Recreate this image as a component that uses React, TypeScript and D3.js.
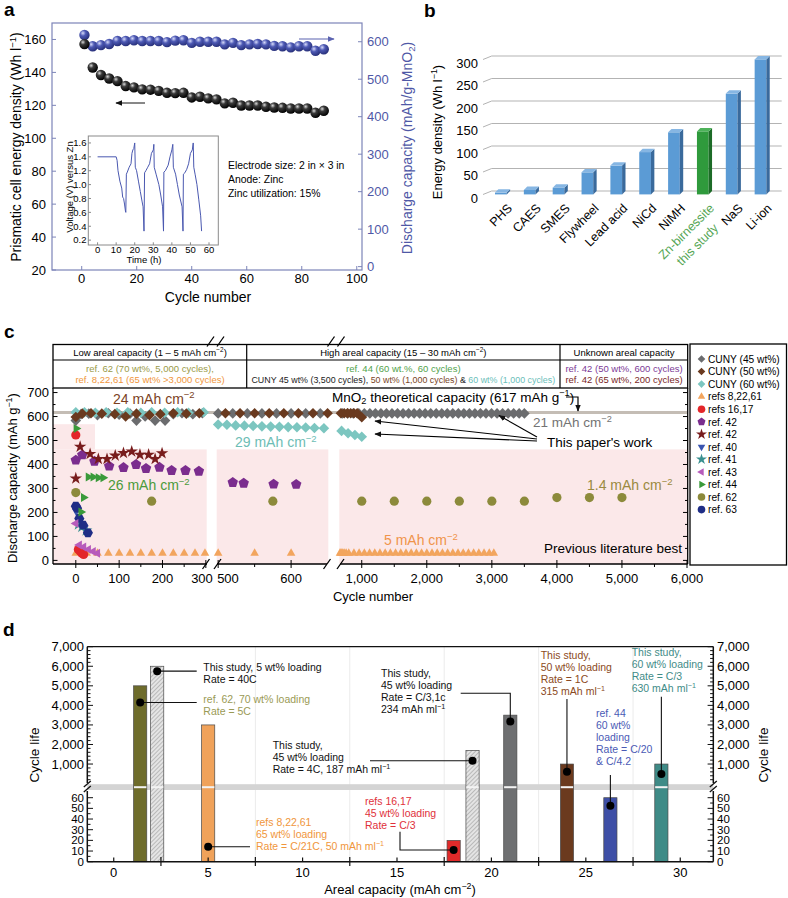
import React from "react";
import * as d3 from "d3";

const FONT = "'Liberation Sans', Arial, Helvetica, sans-serif";

/* ================= Panel a data ================= */
const aCycles = [1, 4, 7, 10, 13, 16, 19, 22, 25, 28, 31, 34, 37, 40, 43, 46, 49, 52, 55, 58, 61, 64, 67, 70, 73, 76, 79, 82, 85, 88];
const aEnergy = [157.2, 143, 138.4, 136.3, 134.7, 131.7, 130.9, 129.7, 129.5, 128.8, 127.6, 127.4, 127.6, 124.8, 125.2, 124.2, 123.6, 121.2, 121.6, 119.9, 119.9, 119.9, 119.1, 118.7, 118.5, 118.1, 118.1, 118.1, 115.5, 116.7];
const aCapacity = [618, 588, 591, 594, 602, 602, 604, 602, 602, 602, 599, 603, 604, 597, 600, 600, 600, 593, 597, 591, 593, 594, 593, 589, 588, 585, 588, 588, 576, 580];
const aLeftTicks = [20, 40, 60, 80, 100, 120, 140, 160];
const aRightTicks = [0, 100, 200, 300, 400, 500, 600];
const aXTicks = [0, 20, 40, 60, 80, 100];
const insetTime = [0, 10, 10.5, 11, 12, 13, 13.5, 14, 14.5, 15, 15.2, 15.5, 16, 17, 18, 18.5, 19, 19.5, 20, 20.3, 21, 22, 23, 24, 24.5, 25, 25.3, 26, 27, 28, 29, 30, 30.3, 30.5, 31.5, 33, 34, 35, 35.5, 35.7, 36.5, 38, 39, 40, 40.5, 40.8, 42, 43, 44, 45.5, 46, 46.2, 47, 48, 49, 50, 51, 51.5, 51.8, 52.5, 53.5, 54.5, 55.5, 56];
const insetVoltage = [1.4, 1.4, 1.35, 1.2, 1.05, 0.95, 0.82, 0.8, 0.72, 0.62, 0.6, 1.15, 1.18, 1.25, 1.3, 1.45, 1.5, 1.52, 1.6, 1.25, 1.2, 1.05, 0.9, 0.75, 0.68, 0.33, 1.17, 1.2, 1.25, 1.3, 1.45, 1.5, 1.58, 1.25, 1.15, 1.0, 0.85, 0.68, 0.33, 1.18, 1.2, 1.28, 1.4, 1.5, 1.58, 1.25, 1.15, 1.0, 0.85, 0.68, 0.33, 1.15, 1.17, 1.22, 1.3, 1.45, 1.5, 1.6, 1.25, 1.15, 1.0, 0.78, 0.55, 0.33];
const insetYTicks = [0.2, 0.4, 0.6, 0.8, 1.0, 1.2, 1.4, 1.6];
const insetXTicks = [0, 10, 20, 30, 40, 50, 60];
const aNotes = ["Electrode size: 2 in × 3 in", "Anode: Zinc", "Zinc utilization: 15%"];

/* ================= Panel b data ================= */
const bCategories = ["PHS", "CAES", "SMES", "Flywheel", "Lead acid", "NiCd", "NiMH", "Zn-birnessite", "NaS", "Li-ion"];
const bValues = [4, 10, 15, 49, 64, 94, 138, 140, 224, 300];
const bTicks = [0, 50, 100, 150, 200, 250, 300];

/* ================= Panel c data ================= */
const cYTicks = [0, 100, 200, 300, 400, 500, 600, 700];
const cXTicks1 = [0, 100, 200, 300];
const cXTicks2 = [500, 600];
const cXTicks3 = [1000, 2000, 3000, 4000, 5000, 6000];
const cXMinor = [50, 150, 250, 550, 1500, 2500, 3500, 4500, 5500];
const cGray45 = [[0, 583], [12, 610], [30, 612], [50, 606], [75, 614], [100, 608], [125, 612], [140, 583], [160, 600], [183, 583], [206, 583], [225, 610], [245, 614], [270, 610], [292, 614],
  [500, 613], [520, 613], [540, 613], [560, 613], [580, 613], [600, 613], [620, 613], [640, 613],
  [700, 613], [785, 613], [870, 613], [955, 613], [1040, 613], [1125, 613], [1210, 613], [1295, 613], [1380, 613], [1465, 613], [1550, 613], [1635, 613], [1720, 613], [1805, 613], [1890, 613], [1975, 613], [2060, 613], [2145, 613], [2230, 613], [2315, 613], [2400, 613], [2485, 613], [2570, 613], [2655, 613], [2740, 613], [2825, 613], [2910, 613], [2995, 613], [3080, 613], [3165, 613], [3250, 613], [3335, 613], [3420, 613], [3500, 613]];
const cBrown50 = [[0, 598], [15, 612], [35, 614], [60, 612], [90, 610], [115, 600], [140, 612], [170, 606], [195, 610], [225, 614], [255, 612], [285, 614],
  [510, 614], [530, 614], [550, 614], [570, 614], [590, 614], [610, 614], [630, 614], [650, 614],
  [680, 614], [730, 614], [780, 614], [830, 614], [880, 614], [930, 614], [1000, 597]];
const cTeal60 = [[0, 618], [20, 618], [45, 616], [70, 618], [95, 616], [120, 618], [150, 616], [175, 618], [205, 616], [235, 618], [260, 616], [295, 618],
  [500, 567], [512, 566], [524, 563], [536, 562], [548, 561], [560, 559], [572, 558], [584, 557], [596, 556], [608, 555], [620, 554], [632, 552], [645, 551],
  [690, 540], [790, 530], [895, 523], [1000, 516]];
const cRefs82261 = [[0, 30], [25, 30], [50, 30], [75, 30], [100, 30], [125, 30], [150, 30], [175, 30], [200, 30], [225, 30], [250, 30], [275, 30], [298, 30],
  [500, 30], [550, 30], [600, 30],
  [665, 30], [680, 30], [695, 30], [710, 30], [730, 30], [760, 30], [800, 30], [880, 30], [960, 30], [1040, 30], [1120, 30], [1200, 30], [1280, 30], [1360, 30], [1440, 30], [1520, 30], [1600, 30], [1680, 30], [1760, 30], [1840, 30], [1920, 30], [2000, 30], [2080, 30], [2160, 30], [2240, 30], [2320, 30], [2400, 30], [2480, 30], [2560, 30], [2640, 30], [2720, 30], [2800, 30], [2880, 30], [2960, 30], [3030, 30]];
const cRefs1617 = [[0, 523], [6, 45], [10, 38], [14, 30], [18, 25]];
const cRef42a = [[0, 418], [15, 440], [43, 413], [77, 393], [110, 387], [139, 400], [162, 383], [193, 388], [221, 375], [253, 375], [284, 372], [520, 325], [535, 322], [576, 318], [607, 317]];
const cRef42b = [[0, 342], [10, 474], [33, 444], [52, 423], [72, 423], [91, 437], [110, 448], [129, 454], [148, 441], [168, 441], [183, 423], [199, 447]];
const cRef40 = [[1, 205], [10, 165], [20, 135]];
const cRef41 = [[6, 150], [14, 140], [24, 125]];
const cRef43 = [[0, 154], [8, 64], [18, 56], [29, 46], [40, 37], [50, 30]];
const cRef44 = [[0, 595], [1, 550], [12, 202], [18, 262], [29, 348], [40, 348], [52, 345], [63, 345]];
const cRef62 = [[0, 283], [175, 247], [575, 247], [1000, 247], [1500, 247], [2000, 247], [2500, 247], [3000, 247], [3500, 247], [4000, 262], [4500, 262], [5000, 262]];
const cRef63 = [[0, 226], [3, 218], [8, 175], [17, 147], [28, 115]];
const cLegendNames = ["CUNY (45 wt%)", "CUNY (50 wt%)", "CUNY (60 wt%)", "refs 8,22,61", "refs 16,17", "ref. 42", "ref. 42", "ref. 40", "ref. 41", "ref. 43", "ref. 44", "ref. 62", "ref. 63"];

/* ================= Panel d data ================= */
const dAreal = [1.4, 2.3, 5.0, 18.0, 19.0, 21.0, 24.0, 26.3, 29.0];
const dCycleLife = [5000, 6000, 3000, 20, 1700, 3500, 1000, 60, 1000];
const dDotValue = [4150, 5750, 14, 11, 1170, 3170, 610, 52.5, 491];
const dUpperTicks = [1000, 2000, 3000, 4000, 5000, 6000, 7000];
const dLowerTicks = [0, 10, 20, 30, 40, 50, 60];
const dXTicks = [0, 5, 10, 15, 20, 25, 30];
const dHalfTicks = [2.5, 7.5, 12.5, 17.5, 22.5, 27.5];
const dNotes = [
  ["ref. 62, 70 wt% loading", "Rate = 5C"],
  ["This study, 5 wt% loading", "Rate = 40C"],
  ["refs 8,22,61", "65 wt% loading", "Rate = C/21C, 50 mAh ml^{−1}"],
  ["refs 16,17", "45 wt% loading", "Rate = C/3"],
  ["This study,", "45 wt% loading", "Rate = 4C, 187 mAh ml^{−1}"],
  ["This study,", "45 wt% loading", "Rate = C/3,1c", "234 mAh ml^{−1}"],
  ["This study,", "50 wt% loading", "Rate = 1C", "315 mAh ml^{−1}"],
  ["ref. 44", "60 wt%", "loading", "Rate = C/20", "& C/4.2"],
  ["This study,", "60 wt% loading", "Rate = C/3", "630 mAh ml^{−1}"],
];

/* ================= helpers ================= */
function rich(s: string, fs: number) {
  const parts = s.split(/(\^\{[^}]*\}|_\{[^}]*\})/).filter((p) => p !== "");
  let cur = 0;
  return parts.map((p, i) => {
    let target = 0;
    let txt = p;
    let size = fs;
    if (p.startsWith("^{")) { target = -0.38 * fs; txt = p.slice(2, -1); size = fs * 0.68; }
    else if (p.startsWith("_{")) { target = 0.22 * fs; txt = p.slice(2, -1); size = fs * 0.68; }
    const dy = target - cur;
    cur = target;
    return <tspan key={i} dy={dy} fontSize={size}>{txt}</tspan>;
  });
}

function regPoly(n: number, r: number, rot: number) {
  const pts: string[] = [];
  for (let i = 0; i < n; i++) {
    const a = rot + (i * 2 * Math.PI) / n;
    pts.push(`${(r * Math.cos(a)).toFixed(2)},${(r * Math.sin(a)).toFixed(2)}`);
  }
  return "M" + pts.join("L") + "Z";
}

function markerPath(shape: string, s: number) {
  switch (shape) {
    case "diamond": return `M0,${-s}L${s},0L0,${s}L${-s},0Z`;
    case "circle": return d3.symbol(d3.symbolCircle, Math.PI * s * s)() as string;
    case "triUp": return regPoly(3, s * 1.15, -Math.PI / 2);
    case "triDown": return regPoly(3, s * 1.15, Math.PI / 2);
    case "triLeft": return regPoly(3, s * 1.15, Math.PI);
    case "triRight": return regPoly(3, s * 1.15, 0);
    case "pentagon": return regPoly(5, s * 1.1, -Math.PI / 2);
    case "hexagon": return regPoly(6, s * 1.05, 0);
    case "star": return d3.symbol(d3.symbolStar, s * s * 2.6)() as string;
    default: return "";
  }
}

/* ================= Panel a ================= */
function PanelA() {
  const x = d3.scaleLinear([-10.8, 101.9], [52, 362]);
  const yL = d3.scaleLinear([20, 170], [270, 23]);
  const yR = d3.scaleLinear([-9, 650], [270, 23]);
  const xi = d3.scaleLinear([-5, 65], [88.3, 218.3]);
  const yi = d3.scaleLinear([0.13, 1.7], [245, 136]);
  const frame = "#7c84b8";
  const blue = "#4f58a6";
  const line = d3.line<number>().x((_, i) => xi(insetTime[i])).y((d) => yi(d));
  return (
    <g>
      <text x={4} y={16} fontSize={19} fontWeight="bold">a</text>
      {aLeftTicks.map((v) => (
        <g key={"l" + v}>
          <line x1={52} x2={56} y1={yL(v)} y2={yL(v)} stroke={frame} />
          <text x={46} y={yL(v) + 4.5} textAnchor="end" fontSize={13}>{v}</text>
        </g>
      ))}
      {aRightTicks.map((v) => (
        <g key={"r" + v}>
          <line x1={358} x2={362} y1={yR(v)} y2={yR(v)} stroke={frame} />
          <text x={367} y={yR(v) + 4.5} fontSize={13} fill={blue}>{v}</text>
        </g>
      ))}
      {aXTicks.map((v) => (
        <g key={"x" + v}>
          <line x1={x(v)} x2={x(v)} y1={270} y2={266} stroke={frame} />
          <text x={x(v)} y={283} textAnchor="middle" fontSize={13}>{v}</text>
        </g>
      ))}
      <rect x={52} y={23} width={310} height={247} fill="none" stroke={frame} strokeWidth={1.2} />
      <text transform="translate(21,147) rotate(-90)" textAnchor="middle" fontSize={14}>{rich("Prismatic cell energy density (Wh l^{−1})", 14)}</text>
      <text transform="translate(412,148) rotate(-90)" textAnchor="middle" fontSize={14} fill={blue}>{rich("Discharge capacity (mAh/g-MnO_{2})", 14)}</text>
      <text x={208} y={302} textAnchor="middle" fontSize={14}>Cycle number</text>

      {/* inset */}
      <rect x={88.3} y={136} width={130} height={109} fill="#fff" stroke="#8a8a8a" />
      {insetYTicks.map((v) => (
        <g key={"iy" + v}>
          <line x1={88.3} x2={91} y1={yi(v)} y2={yi(v)} stroke="#8a8a8a" />
          <text x={86.5} y={yi(v) + 3.3} textAnchor="end" fontSize={9.5}>{v.toFixed(1)}</text>
        </g>
      ))}
      {insetXTicks.map((v) => (
        <g key={"ix" + v}>
          <line x1={xi(v)} x2={xi(v)} y1={245} y2={242.3} stroke="#8a8a8a" />
          <text x={xi(v)} y={253} textAnchor="middle" fontSize={9.5}>{v}</text>
        </g>
      ))}
      <path d={line(insetVoltage) as string} fill="none" stroke="#4a58b0" strokeWidth={1} />
      <text transform="translate(73,187) rotate(-90)" textAnchor="middle" fontSize={9.5}>Voltage (V)  versus Zn</text>
      <text x={144} y={263} textAnchor="middle" fontSize={9.5}>Time (h)</text>

      {aNotes.map((t, i) => (
        <text key={t} x={228} y={169 + i * 14} fontSize={10.4}>{t}</text>
      ))}

      {/* data */}
      {aCycles.map((c, i) => (
        <circle key={"b" + c} cx={x(c)} cy={yR(aCapacity[i])} r={5.2} fill="url(#sphBlue)" />
      ))}
      {aCycles.map((c, i) => (
        <circle key={"k" + c} cx={x(c)} cy={yL(aEnergy[i])} r={5.2} fill="url(#sphBlack)" />
      ))}
      <line x1={145} y1={103} x2={116} y2={103} stroke="#111" strokeWidth={1} markerEnd="url(#ahBlack)" />
      <line x1={299} y1={39} x2={334} y2={39} stroke="#5b63b0" strokeWidth={1.2} markerEnd="url(#ahBlue)" />
    </g>
  );
}

/* ================= Panel b ================= */
function PanelB() {
  const y = d3.scaleLinear([0, 300], [191, 56]);
  const xc = d3.scalePoint(bCategories, [500.85, 760.5]);
  const bw = 11.7;
  const dp = 3.4;
  const front0 = 194.4;
  return (
    <g>
      <text x={424} y={17} fontSize={19} fontWeight="bold">b</text>
      {bTicks.map((v) => (
        <g key={v}>
          <polyline points={`483,${y(v) + 3.5} 491.7,${y(v)} 781.7,${y(v)}`} fill="none" stroke="#b3b3b3" strokeWidth={1} />
          <text x={478} y={y(v) + 11.5} textAnchor="end" fontSize={13}>{v}</text>
        </g>
      ))}
      <text transform="translate(442,132) rotate(-90)" textAnchor="middle" fontSize={13}>{rich("Energy density (Wh l^{−1})", 13)}</text>
      {bCategories.map((c, i) => {
        const cx = xc(c) as number;
        const left = cx - bw / 2;
        const h = y(0) - y(bValues[i]);
        const top = front0 - h;
        const green = c === "Zn-birnessite";
        const fFront = green ? "#2f9a3c" : "#5b9bd5";
        const fSide = green ? "#1c6b27" : "#3a6a9c";
        const fTop = green ? "#4db25a" : "#86b6e3";
        return (
          <g key={c}>
            <rect x={left} y={top} width={bw} height={h} fill={fFront} />
            <polygon points={`${left + bw},${front0} ${left + bw + dp},${front0 - dp} ${left + bw + dp},${top - dp} ${left + bw},${top}`} fill={fSide} />
            <polygon points={`${left},${top} ${left + dp},${top - dp} ${left + bw + dp},${top - dp} ${left + bw},${top}`} fill={fTop} />
          </g>
        );
      })}
      {bCategories.map((c) => {
        const cx = xc(c) as number;
        if (c === "Zn-birnessite") {
          return (
            <g key={"lab" + c} transform={`translate(${cx + 12},209) rotate(-45)`}>
              <text textAnchor="end" fontSize={12.5} fill="#55a655">Zn-birnessite</text>
              <text x={-11} y={17} textAnchor="end" fontSize={12.5} fill="#55a655">this study</text>
            </g>
          );
        }
        return (
          <text key={"lab" + c} transform={`translate(${cx + 12},209) rotate(-45)`} textAnchor="end" fontSize={12.5}>{c}</text>
        );
      })}
    </g>
  );
}

/* ================= Panel c ================= */
const cSegDomains = [[-52.6, 302], [498, 651], [655, 6000]];
const cSegRanges = [[53, 206.7], [216.7, 328.3], [339.3, 687]];

function PanelC() {
  const y = d3.scaleLinear([-15, 719], [564, 388]);
  const sc = cSegDomains.map((d, i) => d3.scaleLinear(d, cSegRanges[i]));
  const xC = (c: number) => (c <= 302 ? sc[0](c) : c <= 651 ? sc[1](c) : sc[2](c));
  const pink = "#fbe8e9";
  const series = [
    { data: cRefs82261, shape: "triUp", color: "#f2a55e", s: 4.3 },
    { data: cRef62, shape: "circle", color: "#8c8a3b", s: 4.6 },
    { data: cRef42a, shape: "pentagon", color: "#7b2d8e", s: 5 },
    { data: cRef42b, shape: "star", color: "#781c1c", s: 4.3 },
    { data: cRefs1617, shape: "circle", color: "#e3262a", s: 4.6 },
    { data: cRef40, shape: "triDown", color: "#3a55b0", s: 4.3 },
    { data: cRef41, shape: "star", color: "#3a9090", s: 4.3 },
    { data: cRef63, shape: "hexagon", color: "#1f2d86", s: 4.8 },
    { data: cRef43, shape: "triLeft", color: "#b75bbb", s: 4.5 },
    { data: cRef44, shape: "triRight", color: "#3a9a3a", s: 4.5 },
    { data: cGray45, shape: "diamond", color: "#6b6c6e", s: 5.3 },
    { data: cTeal60, shape: "diamond", color: "#7cc6c0", s: 5.3 },
    { data: cBrown50, shape: "diamond", color: "#6a3a1f", s: 5.3 },
  ];
  const legend = [
    { shape: "diamond", color: "#6b6c6e" },
    { shape: "diamond", color: "#6a3a1f" },
    { shape: "diamond", color: "#7cc6c0" },
    { shape: "triUp", color: "#f2a55e" },
    { shape: "circle", color: "#e3262a" },
    { shape: "pentagon", color: "#7b2d8e" },
    { shape: "star", color: "#781c1c" },
    { shape: "triDown", color: "#3a55b0" },
    { shape: "star", color: "#3a9090" },
    { shape: "triLeft", color: "#b75bbb" },
    { shape: "triRight", color: "#3a9a3a" },
    { shape: "circle", color: "#8c8a3b" },
    { shape: "circle", color: "#1f2d86" },
  ];
  const slash = (cx: number, cy: number, k: string) => (
    <line key={k} x1={cx - 3.5} y1={cy + 5} x2={cx + 3.5} y2={cy - 5} stroke="#000" strokeWidth={1.3} />
  );
  const xLab = (v: number) => (v === 300 ? 202 : v === 500 ? 228 : xC(v));
  return (
    <g>
      <text x={4} y={338} fontSize={19} fontWeight="bold">c</text>
      {/* pink region */}
      <rect x={53} y={y(463)} width={206.7 - 53} height={564 - y(463)} fill={pink} />
      <rect x={53} y={y(568)} width={95 - 53} height={y(463) - y(568)} fill={pink} />
      <rect x={216.7} y={y(463)} width={328.3 - 216.7} height={564 - y(463)} fill={pink} />
      <rect x={339.3} y={y(463)} width={687 - 339.3} height={564 - y(463)} fill={pink} />
      {/* theoretical line */}
      <line x1={53} x2={687} y1={y(617)} y2={y(617)} stroke="#c4bdb5" strokeWidth={3} />

      {/* table */}
      <rect x={53} y={344.5} width={634.7} height={43.5} fill="none" stroke="#000" strokeWidth={1.3} />
      <line x1={53} x2={687.7} y1={360} y2={360} stroke="#000" strokeWidth={1.2} />
      <line x1={246.7} x2={246.7} y1={344.5} y2={388} stroke="#000" strokeWidth={1.2} />
      <line x1={560} x2={560} y1={344.5} y2={388} stroke="#000" strokeWidth={1.2} />
      {[210.5, 220.5, 331, 341].map((v) => slash(v, 341.5, "ts" + v))}
      <text x={150} y={356} textAnchor="middle" fontSize={9.5}>{rich("Low areal capacity (1 – 5 mAh cm^{−2})", 9.5)}</text>
      <text x={403.3} y={356} textAnchor="middle" fontSize={9.5}>{rich("High areal capacity (15 – 30 mAh cm^{−2})", 9.5)}</text>
      <text x={624} y={356} textAnchor="middle" fontSize={9.5}>Unknown areal capacity</text>
      <text x={150} y={371.5} textAnchor="middle" fontSize={9.5} fill="#9a9a48">ref. 62 (70 wt%, 5,000 cycles),</text>
      <text x={150} y={382.5} textAnchor="middle" fontSize={9.5} fill="#f0963c">ref. 8,22,61 (65 wt% &gt;3,000 cycles)</text>
      <text x={403.3} y={371.5} textAnchor="middle" fontSize={9.5} fill="#52a24c">ref. 44 (60 wt.%, 60 cycles)</text>
      <text x={403.3} y={382.5} textAnchor="middle" fontSize={8.9}>
        <tspan fill="#222">CUNY 45 wt% (3,500 cycles), </tspan>
        <tspan fill="#7a4526">50 wt% (1,000 cycles)</tspan>
        <tspan fill="#222"> &amp; </tspan>
        <tspan fill="#6cc0ba">60 wt% (1,000 cycles)</tspan>
      </text>
      <text x={624} y={371.5} textAnchor="middle" fontSize={9.5} fill="#7d3a96">ref. 42 (50 wt%, 600 cycles)</text>
      <text x={624} y={382.5} textAnchor="middle" fontSize={9.5} fill="#7a1f1f">ref. 42 (65 wt%, 200 cycles)</text>

      {/* axes */}
      <line x1={53} x2={53} y1={388} y2={564} stroke="#000" strokeWidth={1.3} />
      <line x1={687.7} x2={687.7} y1={388} y2={564} stroke="#000" strokeWidth={1.3} />
      {cYTicks.map((v) => (
        <g key={"cy" + v}>
          <line x1={53} x2={57.5} y1={y(v)} y2={y(v)} stroke="#000" />
          <line x1={683} x2={687.7} y1={y(v)} y2={y(v)} stroke="#000" />
          <line x1={53} x2={55.5} y1={y(v + 50)} y2={y(v + 50)} stroke="#000" opacity={v < 700 ? 1 : 0} />
          <line x1={685} x2={687.7} y1={y(v + 50)} y2={y(v + 50)} stroke="#000" opacity={v < 700 ? 1 : 0} />
          <text x={49} y={y(v) + 4.5} textAnchor="end" fontSize={13}>{v}</text>
        </g>
      ))}
      <line x1={53} x2={207} y1={564} y2={564} stroke="#000" strokeWidth={1.3} />
      <line x1={217} x2={327} y1={564} y2={564} stroke="#000" strokeWidth={1.3} />
      <line x1={340} x2={687.7} y1={564} y2={564} stroke="#000" strokeWidth={1.3} />
      {[206, 217.5, 327, 340.5].map((v) => slash(v, 564, "as" + v))}
      {[...cXTicks1, ...cXTicks2, ...cXTicks3].map((v) => (
        <g key={"cx" + v}>
          <line x1={xC(v)} x2={xC(v)} y1={560} y2={568} stroke="#000" />
          <text x={xLab(v)} y={583} textAnchor="middle" fontSize={13}>{d3.format(",")(v)}</text>
        </g>
      ))}
      {cXMinor.map((v) => (
        <line key={"cm" + v} x1={xC(v)} x2={xC(v)} y1={564} y2={567} stroke="#000" />
      ))}
      <text transform="translate(17,478) rotate(-90)" textAnchor="middle" fontSize={13}>{rich("Discharge capacity (mAh g^{−1})", 13)}</text>
      <text x={373} y={601} textAnchor="middle" fontSize={13}>Cycle number</text>

      {/* data */}
      {series.map((s, si) =>
        s.data.map((d, i) => (
          <path key={si + "-" + i} d={markerPath(s.shape, s.s)} transform={`translate(${xC(d[0])},${y(d[1])})`} fill={s.color} />
        ))
      )}

      {/* annotations */}
      <text x={113} y={403.5} fontSize={14} fill="#7b3f1e">{rich("24 mAh cm^{−2}", 14)}</text>
      <text x={332} y={401.5} fontSize={13.5}>{rich("MnO_{2} theoretical capacity (617 mAh g^{−1})", 13.5)}</text>
      <polyline points="566,397 578,397 578,411" fill="none" stroke="#000" strokeWidth={1.2} markerEnd="url(#ahBlack)" />
      <text x={533} y={427} fontSize={13.5} fill="#737373">{rich("21 mAh cm^{−2}", 13.5)}</text>
      <text x={547} y={447} fontSize={13.5}>This paper's work</text>
      <line x1={537} y1={437} x2={499} y2={415.5} stroke="#000" strokeWidth={1.1} markerEnd="url(#ahBlack)" />
      <line x1={537} y1={439} x2={375} y2={421} stroke="#000" strokeWidth={1.1} markerEnd="url(#ahBlack)" />
      <line x1={537} y1={441} x2={375} y2={434} stroke="#000" strokeWidth={1.1} markerEnd="url(#ahBlack)" />
      <text x={235} y={447} fontSize={14} fill="#6dbdb5">{rich("29 mAh cm^{−2}", 14)}</text>
      <text x={108} y={490} fontSize={14} fill="#4a9a3a">{rich("26 mAh cm^{−2}", 14)}</text>
      <text x={587} y={490} fontSize={14} fill="#9a8a40">{rich("1.4 mAh cm^{−2}", 14)}</text>
      <text x={384} y={545} fontSize={14} fill="#f0944a">{rich("5 mAh cm^{−2}", 14)}</text>
      <text x={682} y={553} textAnchor="end" fontSize={13.5}>Previous literature best</text>

      {/* legend */}
      <rect x={690} y={344} width={96.5} height={221} fill="#fff" stroke="#000" strokeWidth={1.3} />
      {cLegendNames.map((n, i) => {
        const cy = 359 + i * 12.55;
        const m = legend[i];
        return (
          <g key={"lg" + i}>
            <path d={markerPath(m.shape, 3.8)} transform={`translate(701.5,${cy})`} fill={m.color} />
            <text x={708} y={cy + 3.8} fontSize={10.2}>{n}</text>
          </g>
        );
      })}
    </g>
  );
}

/* ================= Panel d ================= */
function PanelD() {
  const x = d3.scaleLinear([-1.4, 31.75], [87.3, 713.3]);
  const yU = d3.scaleLinear([0, 7000], [783.6, 646.7]);
  const yL = d3.scaleLinear([0, 60], [861.7, 797.7]);
  const yv = (v: number) => (v > 66 ? yU(v) : yL(v));
  const bw = 13.2;
  const base = 861.7;
  const fills = ["#6e6c2b", "url(#hatch)", "#f0a25a", "#e12a2a", "url(#hatch)", "#6e6f71", "#6b3a1e", "#3e4fa6", "#3f8b87"];
  const noteColors = ["#9a9a55", "#111", "#f0963c", "#e0303a", "#111", "#111", "#8b4a22", "#4a5ab5", "#3f8c88"];
  const noteX = [203.3, 203.3, 256, 365, 272.7, 381, 540.7, 596, 631.7];
  const noteY = [702.5, 671, 825.8, 805, 749, 677, 658.5, 716.8, 655.8];
  const leaders = dAreal.map((a, i) => {
    const px = x(a);
    const py = yv(dDotValue[i]);
    switch (i) {
      case 0: case 1: return `${px},${py} 196.7,${py}`;
      case 2: return `${px},${py} 250,${py}`;
      case 3: return `${px},${py} 400,${py} 400,831.7`;
      case 4: return `${px},${py} 370,${py}`;
      case 5: return `${px},${py} ${px},693.3 460.7,693.3`;
      case 6: return `${px},${py} ${px},699`;
      case 7: return `${px},${py} ${px},775`;
      default: return `${px},${py} ${px},696.7`;
    }
  });
  const upperMinor: number[] = [];
  for (const t of dUpperTicks) for (const k of [200, 400, 600, 800]) if (t - k > 0) upperMinor.push(t - k);
  const lowerMinor: number[] = [];
  for (const t of dLowerTicks) if (t > 0) lowerMinor.push(t - 5);
  return (
    <g>
      <text x={3} y={636} fontSize={19} fontWeight="bold">d</text>
      {dHalfTicks.slice(1).map((v) => (
        <line key={"g" + v} x1={x(v)} x2={x(v)} y1={646.7} y2={861.7} stroke="#ebebeb" strokeWidth={1} />
      ))}
      <rect x={87.3} y={784.2} width={626} height={5.8} fill="#d4d4d4" />
      {dAreal.map((a, i) => {
        const v = dCycleLife[i];
        const top = yv(v);
        return (
          <g key={"bar" + i}>
            <rect x={x(a) - bw / 2} y={top} width={bw} height={base - top} fill={fills[i]} stroke="#4a4a4a" strokeWidth={0.7} />
            {v > 66 && <rect x={x(a) - bw / 2 + 0.4} y={786.2} width={bw - 0.8} height={2} fill="#f3f3f3" />}
          </g>
        );
      })}
      {/* frame */}
      <line x1={87.3} x2={713.3} y1={646.7} y2={646.7} stroke="#111" strokeWidth={1.3} />
      <line x1={87.3} x2={713.3} y1={861.7} y2={861.7} stroke="#111" strokeWidth={1.5} />
      <line x1={87.3} x2={87.3} y1={646.7} y2={783} stroke="#111" strokeWidth={1.5} />
      <line x1={87.3} x2={87.3} y1={791} y2={861.7} stroke="#111" strokeWidth={1.5} />
      <line x1={713.3} x2={713.3} y1={646.7} y2={783} stroke="#111" strokeWidth={1.5} />
      <line x1={713.3} x2={713.3} y1={791} y2={861.7} stroke="#111" strokeWidth={1.5} />
      {[87.3, 713.3].map((ax) => (
        <g key={"br" + ax}>
          <line x1={ax - 3.5} y1={787} x2={ax + 3.5} y2={781} stroke="#111" strokeWidth={1.3} />
          <line x1={ax - 3.5} y1={792} x2={ax + 3.5} y2={786} stroke="#111" strokeWidth={1.3} />
        </g>
      ))}
      {dUpperTicks.map((v) => (
        <g key={"u" + v}>
          <line x1={87.3} x2={93} y1={yU(v)} y2={yU(v)} stroke="#111" />
          <line x1={707.6} x2={713.3} y1={yU(v)} y2={yU(v)} stroke="#111" />
          <text x={84} y={yU(v) + 4.5} textAnchor="end" fontSize={13}>{d3.format(",")(v)}</text>
          <text x={717} y={yU(v) + 4.5} fontSize={13}>{d3.format(",")(v)}</text>
        </g>
      ))}
      {upperMinor.map((v) => (
        <g key={"um" + v}>
          <line x1={87.3} x2={90.5} y1={yU(v)} y2={yU(v)} stroke="#111" />
          <line x1={710.1} x2={713.3} y1={yU(v)} y2={yU(v)} stroke="#111" />
        </g>
      ))}
      {dLowerTicks.map((v) => (
        <g key={"lo" + v}>
          <line x1={87.3} x2={93} y1={yL(v)} y2={yL(v)} stroke="#111" />
          <line x1={707.6} x2={713.3} y1={yL(v)} y2={yL(v)} stroke="#111" />
          <text x={84} y={yL(v) + 4} textAnchor="end" fontSize={11.5}>{v}</text>
          <text x={717} y={yL(v) + 4} fontSize={11.5}>{v}</text>
        </g>
      ))}
      {lowerMinor.map((v) => (
        <g key={"lm" + v}>
          <line x1={87.3} x2={90.5} y1={yL(v)} y2={yL(v)} stroke="#111" />
          <line x1={710.1} x2={713.3} y1={yL(v)} y2={yL(v)} stroke="#111" />
        </g>
      ))}
      {dXTicks.map((v) => (
        <g key={"dx" + v}>
          <line x1={x(v)} x2={x(v)} y1={861.7} y2={857.5} stroke="#111" strokeWidth={1.2} />
          <text x={x(v)} y={877} textAnchor="middle" fontSize={13}>{v}</text>
        </g>
      ))}
      {dHalfTicks.map((v) => (
        <line key={"dh" + v} x1={x(v)} x2={x(v)} y1={857} y2={866} stroke="#111" strokeWidth={1.2} />
      ))}
      <text transform="translate(39,755) rotate(-90)" textAnchor="middle" fontSize={13.5}>Cycle life</text>
      <text transform="translate(768,755) rotate(-90)" textAnchor="middle" fontSize={13.5}>Cycle life</text>
      <text x={400} y={894} textAnchor="middle" fontSize={13}>{rich("Areal capacity (mAh cm^{−2})", 13)}</text>

      {leaders.map((p, i) => (
        <polyline key={"ld" + i} points={p} fill="none" stroke="#111" strokeWidth={1.1} />
      ))}
      {dAreal.map((a, i) => (
        <circle key={"dot" + i} cx={x(a)} cy={yv(dDotValue[i])} r={4} fill="#000" />
      ))}
      {dNotes.map((lines, i) => (
        <g key={"n" + i}>
          {lines.map((t, j) => (
            <text key={j} x={noteX[i]} y={noteY[i] + j * 12} fontSize={10.5} fill={noteColors[i]}>{rich(t, 10.5)}</text>
          ))}
        </g>
      ))}
    </g>
  );
}

export default function App() {
  return (
    <svg width={788} height={898} viewBox="0 0 788 898" style={{ position: "absolute", left: 0, top: 0, background: "#fff" }} fontFamily={FONT}>
      <defs>
        <radialGradient id="sphBlack" cx="35%" cy="32%" r="70%">
          <stop offset="0%" stopColor="#d8d8d8" />
          <stop offset="35%" stopColor="#3a3a3a" />
          <stop offset="100%" stopColor="#000" />
        </radialGradient>
        <radialGradient id="sphBlue" cx="35%" cy="32%" r="70%">
          <stop offset="0%" stopColor="#d6dafa" />
          <stop offset="40%" stopColor="#4d59b4" />
          <stop offset="100%" stopColor="#28307a" />
        </radialGradient>
        <pattern id="hatch" width="3" height="3" patternUnits="userSpaceOnUse" patternTransform="rotate(45)">
          <rect width="3" height="3" fill="#e4e4e4" />
          <line x1="0" y1="0" x2="0" y2="3" stroke="#8e8e8e" strokeWidth="1" />
        </pattern>
        <marker id="ahBlack" viewBox="0 0 10 10" refX="9" refY="5" markerWidth="7" markerHeight="7" markerUnits="userSpaceOnUse" orient="auto">
          <path d="M0,1L10,5L0,9Z" fill="#111" />
        </marker>
        <marker id="ahBlue" viewBox="0 0 10 10" refX="9" refY="5" markerWidth="7" markerHeight="7" markerUnits="userSpaceOnUse" orient="auto">
          <path d="M0,1L10,5L0,9Z" fill="#5b63b0" />
        </marker>
      </defs>
      <rect width={788} height={898} fill="#fff" />
      <PanelA />
      <PanelB />
      <PanelC />
      <PanelD />
    </svg>
  );
}
